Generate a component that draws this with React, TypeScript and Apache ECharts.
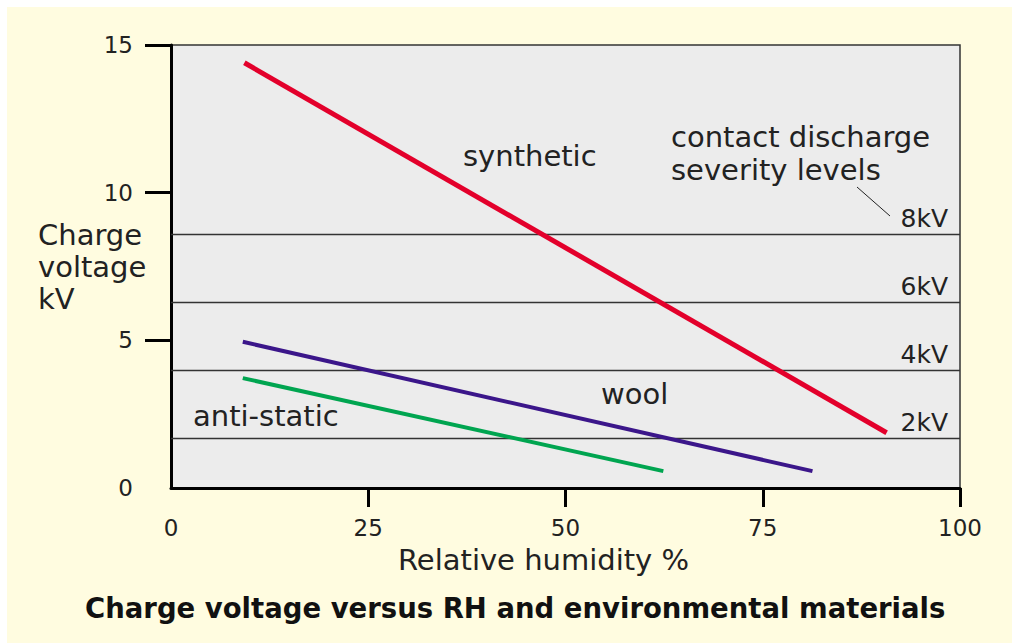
import React, { useEffect, useRef } from "react";
import * as echarts from "echarts";

// Relative humidity (%) vs charge voltage (kV)
const syntheticData: number[][] = [[9.3, 14.4], [90.7, 1.87]];
const woolData: number[][] = [[9.1, 4.95], [81.3, 0.57]];
const antiStaticData: number[][] = [[9.1, 3.72], [62.4, 0.57]];

// Contact discharge severity levels (labels and drawn positions on the kV axis)
const severityLabels = ["8kV", "6kV", "4kV", "2kV"];
const severityValues = [8.6, 6.3, 4.0, 1.7];

// Axis ticks
const xTickMarks = [25, 50, 75, 100];
const yTickMarks = [5, 10, 15];

const FONT = "DejaVu Sans";
const TEXT = "#222222";

export default function App() {
  const ref = useRef<HTMLDivElement>(null);
  useEffect(() => {
    if (!ref.current) return;
    const chart = echarts.init(ref.current, null, { renderer: "svg" });
    chart.setOption({
      animation: false,
      backgroundColor: "#fffce0",
      title: {
        text: "Charge voltage versus RH and environmental materials",
        left: 80,
        top: 589,
        textStyle: { fontFamily: FONT, fontWeight: "bold", fontSize: 27.5, color: "#111" },
      },
      grid: {
        left: 171,
        top: 45,
        right: 52,
        bottom: 155,
        show: true,
        backgroundColor: "#ececec",
        borderColor: "#333",
        borderWidth: 1.5,
        outerBoundsMode: "none",
        containLabel: false,
      },
      xAxis: {
        type: "value",
        min: 0,
        max: 100,
        interval: 25,
        name: "Relative humidity %",
        nameLocation: "middle",
        nameGap: 57,
        nameMoveOverlap: false,
        nameTextStyle: { fontFamily: FONT, fontSize: 29, color: TEXT, padding: [0, 44, 0, 0] },
        axisLine: { show: true, lineStyle: { color: "#000", width: 3 } },
        axisTick: { show: true, length: 19, lineStyle: { color: "#000", width: 3 }, customValues: xTickMarks },
        axisLabel: { fontFamily: FONT, fontSize: 23, color: TEXT, margin: 28 },
        splitLine: { show: false },
      },
      yAxis: {
        type: "value",
        min: 0,
        max: 15,
        interval: 5,
        name: "Charge\nvoltage\nkV",
        nameLocation: "middle",
        nameRotate: 0,
        nameGap: 133,
        nameMoveOverlap: false,
        nameTextStyle: {
          fontFamily: FONT,
          fontSize: 29,
          color: TEXT,
          align: "left",
          verticalAlign: "middle",
          lineHeight: 32,
        },
        axisLine: { show: true, lineStyle: { color: "#000", width: 3 } },
        axisTick: { show: true, length: 26, lineStyle: { color: "#000", width: 3 }, customValues: yTickMarks },
        axisLabel: { fontFamily: FONT, fontSize: 23, color: TEXT, margin: 38 },
        splitLine: { show: false },
      },
      graphic: [
        { type: "rect", shape: { x: 0, y: 0, width: 1012, height: 7 }, style: { fill: "#ffffff" }, silent: true },
        { type: "rect", shape: { x: 0, y: 0, width: 7, height: 643 }, style: { fill: "#ffffff" }, silent: true },
        {
          type: "text",
          left: 463,
          top: 141,
          style: { text: "synthetic", font: `29px "${FONT}"`, fill: TEXT },
        },
        {
          type: "text",
          left: 601,
          top: 379,
          style: { text: "wool", font: `29px "${FONT}"`, fill: TEXT },
        },
        {
          type: "text",
          left: 193,
          top: 401,
          style: { text: "anti-static", font: `29px "${FONT}"`, fill: TEXT },
        },
        {
          type: "text",
          left: 671,
          top: 120,
          style: {
            text: "contact discharge\nseverity levels",
            font: `29px "${FONT}"`,
            fill: TEXT,
            lineHeight: 33,
          },
        },
        {
          type: "line",
          shape: { x1: 857, y1: 187, x2: 890, y2: 216 },
          style: { stroke: "#222", lineWidth: 1 },
        },
      ],
      series: [
        {
          name: "severity",
          type: "line",
          data: [],
          markLine: {
            silent: true,
            symbol: "none",
            lineStyle: { color: "#333", width: 1.3, type: "solid" },
            label: {
              show: true,
              position: "insideEndTop",
              fontFamily: FONT,
              fontSize: 25,
              color: TEXT,
              distance: [12, 3],
            },
            data: severityValues.map((v, i) => ({
              yAxis: v,
              label: { formatter: severityLabels[i] },
            })),
          },
        },
        {
          name: "synthetic",
          type: "line",
          data: syntheticData,
          symbol: "none",
          lineStyle: { color: "#e3002b", width: 5 },
          z: 5,
        },
        {
          name: "wool",
          type: "line",
          data: woolData,
          symbol: "none",
          lineStyle: { color: "#3b168a", width: 4 },
          z: 5,
        },
        {
          name: "anti-static",
          type: "line",
          data: antiStaticData,
          symbol: "none",
          lineStyle: { color: "#00a550", width: 4 },
          z: 5,
        },
      ],
    });
    return () => chart.dispose();
  }, []);
  return (
    <div
      ref={ref}
      style={{ position: "fixed", left: 0, top: 0, width: 1012, height: 643 }}
    />
  );
}
